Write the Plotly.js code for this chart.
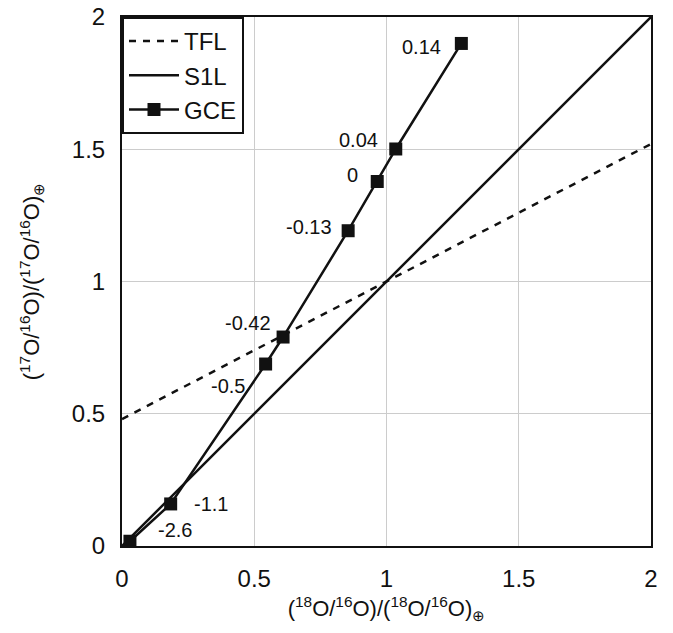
<!DOCTYPE html>
<html>
<head>
<meta charset="utf-8">
<script src="https://cdn.plot.ly/plotly-3.0.1.min.js"></script>
<style>html,body{margin:0;padding:0;background:#fff;}</style>
</head>
<body>
<div id="chart" style="width:673px;height:633px;"></div>
<script>
// GCE points (x: 18O ratio, y: 17O ratio) and labels
const gceX = [0.030, 0.184, 0.543, 0.609, 0.855, 0.965, 1.035, 1.283];
const gceY = [0.018, 0.159, 0.688, 0.790, 1.192, 1.378, 1.501, 1.900];
const gceLabels = ["-2.6", "-1.1", "-0.5", "-0.42", "-0.13", "0", "0.04", "0.14"];
// TFL line endpoints
const tflX = [0, 2];
const tflY = [0.48, 1.52];
// S1L line endpoints
const s1lX = [0, 2];
const s1lY = [0, 2];
const tickVals = [0, 0.5, 1, 1.5, 2];
const tickText = ["0", "0.5", "1", "1.5", "2"];

// label placement (offsets in px)
const labelPos = [
  {xa: "left", dx: 26, dy: 11},
  {xa: "left", dx: 21, dy: 0},
  {xa: "right", dx: -19, dy: -22},
  {xa: "right", dx: -10, dy: 14},
  {xa: "right", dx: -14, dy: 4},
  {xa: "right", dx: -17, dy: 7},
  {xa: "right", dx: -16, dy: 9},
  {xa: "right", dx: -18, dy: -4}
];

const font = "Liberation Sans, Arial, Helvetica, sans-serif";

const traces = [
  {x: tflX, y: tflY, mode: "lines", name: "TFL",
   line: {color: "#111", width: 2.5, dash: "7px,7px"}},
  {x: s1lX, y: s1lY, mode: "lines", name: "S1L",
   line: {color: "#111", width: 2.5}},
  {x: gceX, y: gceY, mode: "lines+markers", name: "GCE",
   line: {color: "#111", width: 2.5},
   marker: {symbol: "square", size: 13, color: "#111"}}
];

const annotations = gceLabels.map((t, i) => ({
  x: gceX[i], y: gceY[i], xref: "x", yref: "y", text: t, showarrow: false,
  xanchor: labelPos[i].xa, yanchor: "middle",
  xshift: labelPos[i].dx, yshift: labelPos[i].dy,
  font: {family: font, size: 20, color: "#111"}
}));

const axisCommon = {
  range: [0, 2], tickvals: tickVals, ticktext: tickText,
  showgrid: true, gridcolor: "#cccccc", gridwidth: 1,
  showline: true, linecolor: "#111", linewidth: 2, mirror: true,
  zeroline: false, ticks: "", ticklabelstandoff: 10,
  tickfont: {family: font, size: 24, color: "#111"}
};

const layout = {
  width: 673, height: 633,
  margin: {l: 122, r: 22, t: 17, b: 87},
  paper_bgcolor: "#fff", plot_bgcolor: "#fff",
  font: {family: font, color: "#111"},
  showlegend: true,
  legend: {
    x: 0, y: 1, xref: "paper", yref: "paper", xanchor: "left", yanchor: "top",
    bgcolor: "#fff", bordercolor: "#111", borderwidth: 2,
    font: {family: font, size: 24, color: "#111"},
    itemwidth: 50, tracegroupgap: 6
  },
  xaxis: Object.assign({}, axisCommon, {
    title: {text: "(<sup>18</sup>O/<sup>16</sup>O)/(<sup>18</sup>O/<sup>16</sup>O)<sub>⊕</sub>",
            font: {family: font, size: 22, color: "#111"}, standoff: 10}
  }),
  yaxis: Object.assign({}, axisCommon, {
    title: {text: "(<sup>17</sup>O/<sup>16</sup>O)/(<sup>17</sup>O/<sup>16</sup>O)<sub>⊕</sub>",
            font: {family: font, size: 22, color: "#111"}, standoff: 26}
  }),
  annotations: annotations
};

Plotly.newPlot("chart", traces, layout, {displayModeBar: false, staticPlot: true});
</script>
</body>
</html>
